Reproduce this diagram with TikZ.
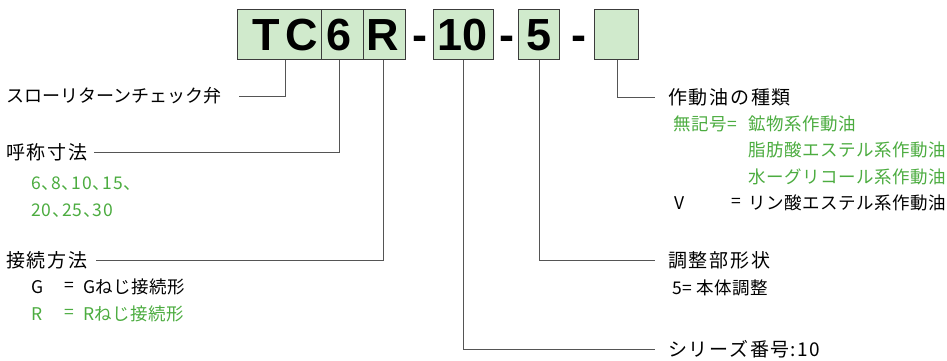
\documentclass[tikz,border=0pt]{standalone}
\usepackage{fontspec}
\setmainfont{Liberation Sans}
\newfontfamily\jp{Noto Sans CJK JP}
\newfontfamily\jphead[LetterSpace=9]{Noto Sans CJK JP}
\newfontfamily\jpsub[LetterSpace=3]{Noto Sans CJK JP}
\newfontfamily\jpnum[RawFeature=+palt,LetterSpace=5]{Noto Sans CJK JP}
\definecolor{boxfill}{RGB}{208,234,204}
\definecolor{boxline}{RGB}{60,60,60}
\definecolor{tgreen}{RGB}{76,172,64}
\definecolor{lgray}{RGB}{85,85,85}
\begin{document}
\begin{tikzpicture}[x=1pt,y=-1pt,
  codebox/.style={draw=boxline, fill=boxfill, line width=1pt, minimum height=50pt, inner sep=0pt},
  codetxt/.style={anchor=base, inner sep=0pt, font=\fontsize{45}{45}\selectfont\bfseries},
  head/.style={anchor=west, inner sep=0pt, font=\jphead\fontsize{19}{19}\selectfont},
  headn/.style={anchor=west, inner sep=0pt, font=\jp\fontsize{18}{18}\selectfont},
  sub/.style={anchor=west, inner sep=0pt, font=\jpsub\fontsize{17.5}{17.5}\selectfont},
  subnum/.style={anchor=west, inner sep=0pt, font=\jpnum\fontsize{17.5}{17.5}\selectfont},
  lead/.style={draw=lgray, line width=0.9pt}]
\path[use as bounding box] (0,0) rectangle (947,360);

% code boxes
\node[codebox, minimum width=84pt] (btc) at (279,34) {};
\node[codebox, minimum width=42pt] (b6) at (342,34) {};
\node[codebox, minimum width=42pt] (bR) at (384.5,34) {};
\node[codebox, minimum width=60pt] (b10) at (463,34) {};
\node[codebox, minimum width=41pt] (b5) at (538.5,34) {};
\node[codebox, minimum width=44pt] (bV) at (616,34) {};

\node[codetxt] (ttc) at (285,50) {T\hspace{5pt}C};
\node[codetxt] (t6) at (339,50) {6};
\node[codetxt] (tR) at (383,50) {R};
\node[codetxt] (t10) at (463,50) {10};
\node[codetxt] (t5) at (539,50) {5};
\coordinate (tV) at (617,50);

\node[codetxt] (d1) at (420,50) {-};
\node[codetxt] (d2) at (507,50) {-};
\node[codetxt] (d3) at (578.5,50) {-};

% left labels
\node[headn] (n1) at (6,96) {スローリターンチェック弁};
\node[head] (n2) at (6,152) {呼称寸法};
\node[subnum, text=tgreen] (n2a) at (31,184) {6、8、10、15、};
\node[subnum, text=tgreen] (n2b) at (31,211) {20、25、30};
\node[head] (n3) at (6,260) {接続方法};
\node[sub] (n3a) at (31,287) {G};
\node[sub] (n3b) at (64,287) {=};
\node[sub] (n3c) at (83,287) {Gねじ接続形};
\node[sub, text=tgreen] (n3d) at (31,314) {R};
\node[sub, text=tgreen] (n3e) at (64,314) {=};
\node[sub, text=tgreen] (n3f) at (83,314) {Rねじ接続形};

% right labels
\node[head] (m1) at (668,97) {作動油の種類};
\node[sub, text=tgreen] (m1a) at (673,124) {無記号=};
\node[sub, text=tgreen] (m1b) at (748,124) {鉱物系作動油};
\node[sub, text=tgreen] (m1c) at (748,150) {脂肪酸エステル系作動油};
\node[sub, text=tgreen] (m1d) at (748,177) {水ーグリコール系作動油};
\node[sub] (m1e) at (674,203) {V};
\node[sub] (m1f) at (731,203) {=};
\node[sub] (m1g) at (748,203) {リン酸エステル系作動油};
\node[head] (m2) at (668,260) {調整部形状};
\node[sub] (m2a) at (672,288) {5=\hspace{4pt}本体調整};
\node[head] (m3) at (668,349) {シリーズ番号\hspace{1pt}:\hspace{1pt}10};

% leader lines
\draw[lead] (ttc |- btc.south) |- ([xshift=17pt]n1.east);
\draw[lead] (t6 |- b6.south) |- ([xshift=6pt]n2.east);
\draw[lead] (tR |- bR.south) |- ([xshift=8pt]n3.east);
\draw[lead] (t10 |- b10.south) |- ([xshift=-13pt]m3.west);
\draw[lead] (t5 |- b5.south) |- ([xshift=-13pt]m2.west);
\draw[lead] (tV |- bV.south) |- ([xshift=-13pt]m1.west);
\end{tikzpicture}
\end{document}
